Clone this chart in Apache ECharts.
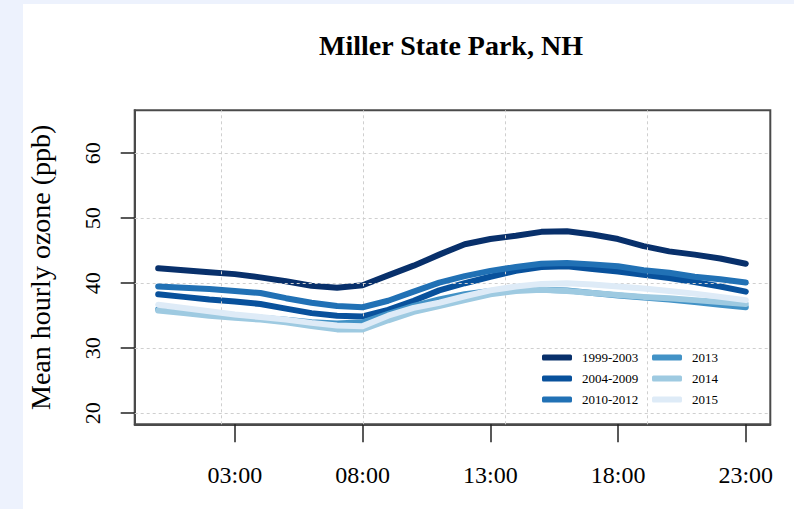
<!DOCTYPE html>
<html>
<head>
<meta charset="utf-8">
<script src="https://cdn.jsdelivr.net/npm/echarts@6/dist/echarts.min.js"></script>
<style>
  html, body { margin: 0; padding: 0; width: 794px; height: 509px; overflow: hidden; background: #EDF2FD; }
  #paper { position: absolute; left: 23px; top: 4px; right: 0; bottom: 0; background: #ffffff; }
  #chart { position: absolute; left: 0; top: 0; width: 794px; height: 509px; }
</style>
</head>
<body>
<div id="paper"></div>
<div id="chart"></div>
<script>
// ---- data ----
const hours = [0,1,2,3,4,5,6,7,8,9,10,11,12,13,14,15,16,17,18,19,20,21,22,23];
const seriesNames = ['1999-2003','2004-2009','2010-2012','2013','2014','2015'];
const seriesColors = ['#08306B','#08519C','#2171B5','#4292C6','#9ECAE1','#DEEBF7'];
const s1999_2003 = [42.3,42.0,41.7,41.4,40.9,40.3,39.6,39.3,39.7,41.2,42.7,44.4,46.0,46.8,47.3,47.9,48.0,47.5,46.8,45.7,44.9,44.4,43.8,43.0];
const s2004_2009 = [38.3,37.9,37.5,37.2,36.8,36.1,35.4,35.0,34.9,35.9,37.3,38.9,40.0,41.0,41.9,42.5,42.6,42.2,41.8,41.3,40.8,40.2,39.5,38.7];
const s2010_2012 = [39.5,39.3,39.1,38.8,38.5,37.7,37.0,36.5,36.3,37.3,38.7,40.1,41.1,41.9,42.5,43.0,43.1,42.9,42.6,42.0,41.6,41.0,40.6,40.1];
const s2013 = [36.0,35.7,35.3,35.0,34.7,34.4,34.0,33.8,34.0,35.3,36.5,37.5,38.3,38.8,39.0,39.0,38.9,38.5,38.1,37.8,37.5,37.1,36.7,36.3];
const s2014 = [35.8,35.4,35.0,34.7,34.4,34.0,33.4,32.9,32.9,34.3,35.6,36.5,37.4,38.3,38.8,39.0,38.8,38.5,38.2,37.9,37.7,37.4,37.1,36.8];
const s2015 = [36.7,36.2,35.7,35.2,34.8,34.4,33.9,33.5,33.4,35.0,36.2,37.0,38.0,38.9,39.5,39.9,40.0,39.8,39.5,39.2,38.8,38.4,37.9,37.4];
const seriesValues = [s1999_2003, s2004_2009, s2010_2012, s2013, s2014, s2015];

const xTickHours = [3,8,13,18,23];
const xTickLabels = ['03:00','08:00','13:00','18:00','23:00'];
const yTickValues = [20,30,40,50,60];
const gridHours = [2.46,8.03,13.6,19.16];

const titleText = 'Miller State Park, NH';
const yTitle = 'Mean hourly ozone (ppb)';

// ---- chart ----
const FONT = '"Liberation Serif", "Times New Roman", serif';
const chart = echarts.init(document.getElementById('chart'), null, { renderer: 'svg' });

const lineSeries = seriesNames.map((name, i) => ({
  name: name,
  type: 'line',
  data: hours.map((h, j) => [h, seriesValues[i][j]]),
  showSymbol: false,
  symbol: 'none',
  color: seriesColors[i],
  lineStyle: { width: 6, color: seriesColors[i], cap: 'round', join: 'round' },
  emphasis: { disabled: true },
  z: 3 + i
}));

const gridSeries = {
  name: '__grid',
  type: 'line',
  data: [],
  silent: true,
  z: 20,
  markLine: {
    silent: true,
    symbol: ['none', 'none'],
    label: { show: false },
    emphasis: { disabled: true },
    lineStyle: { color: '#cfcfcf', type: [3, 3], width: 1 },
    data: yTickValues.map(v => ({ yAxis: v })).concat(gridHours.map(h => ({ xAxis: h })))
  }
};

const legendBase = {
  orient: 'vertical', top: 351, padding: 0,
  icon: 'roundRect', itemWidth: 30, itemHeight: 6, itemGap: 8,
  selectedMode: false,
  textStyle: { fontFamily: FONT, fontSize: 13, color: '#000', lineHeight: 13, padding: [0, 0, 0, 5] }
};

chart.setOption({
  animation: false,
  title: {
    text: titleText,
    left: 446,
    textAlign: 'center',
    top: 26,
    textStyle: { fontFamily: FONT, fontWeight: 'bold', fontSize: 28, color: '#000' }
  },
  grid: {
    left: 134.7, top: 110.3, right: 23.7, bottom: 84.7,
    show: true, borderColor: '#4a4a4a', borderWidth: 2, backgroundColor: 'transparent'
  },
  legend: [
    Object.assign({}, legendBase, { data: seriesNames.slice(0, 3), left: 542 }),
    Object.assign({}, legendBase, { data: seriesNames.slice(3), left: 652 })
  ],
  xAxis: {
    type: 'value',
    position: 'bottom',
    min: -0.92, max: 23.96,
    axisLine: { show: true, onZero: false, lineStyle: { color: '#4a4a4a', width: 2 } },
    splitLine: { show: false },
    axisTick: { show: true, inside: false, length: 18, customValues: xTickHours, lineStyle: { color: '#222', width: 1.5 } },
    axisLabel: {
      show: true, customValues: xTickHours, margin: 39,
      fontFamily: FONT, fontSize: 24, color: '#000',
      formatter: v => xTickLabels[xTickHours.indexOf(v)]
    }
  },
  yAxis: {
    type: 'value',
    position: 'left',
    min: 18.3, max: 66.6,
    name: yTitle,
    nameLocation: 'middle',
    nameRotate: 90,
    nameGap: 80,
    nameTextStyle: { fontFamily: FONT, fontSize: 28, color: '#000' },
    axisLine: { show: true, onZero: false, lineStyle: { color: '#4a4a4a', width: 2 } },
    splitLine: { show: false },
    axisTick: { show: true, inside: false, length: 14, customValues: yTickValues, lineStyle: { color: '#222', width: 1.5 } },
    axisLabel: {
      show: true, customValues: yTickValues, rotate: 90, margin: 31,
      fontFamily: FONT, fontSize: 22, color: '#000'
    }
  },
  series: lineSeries.concat([gridSeries])
});
</script>
</body>
</html>
